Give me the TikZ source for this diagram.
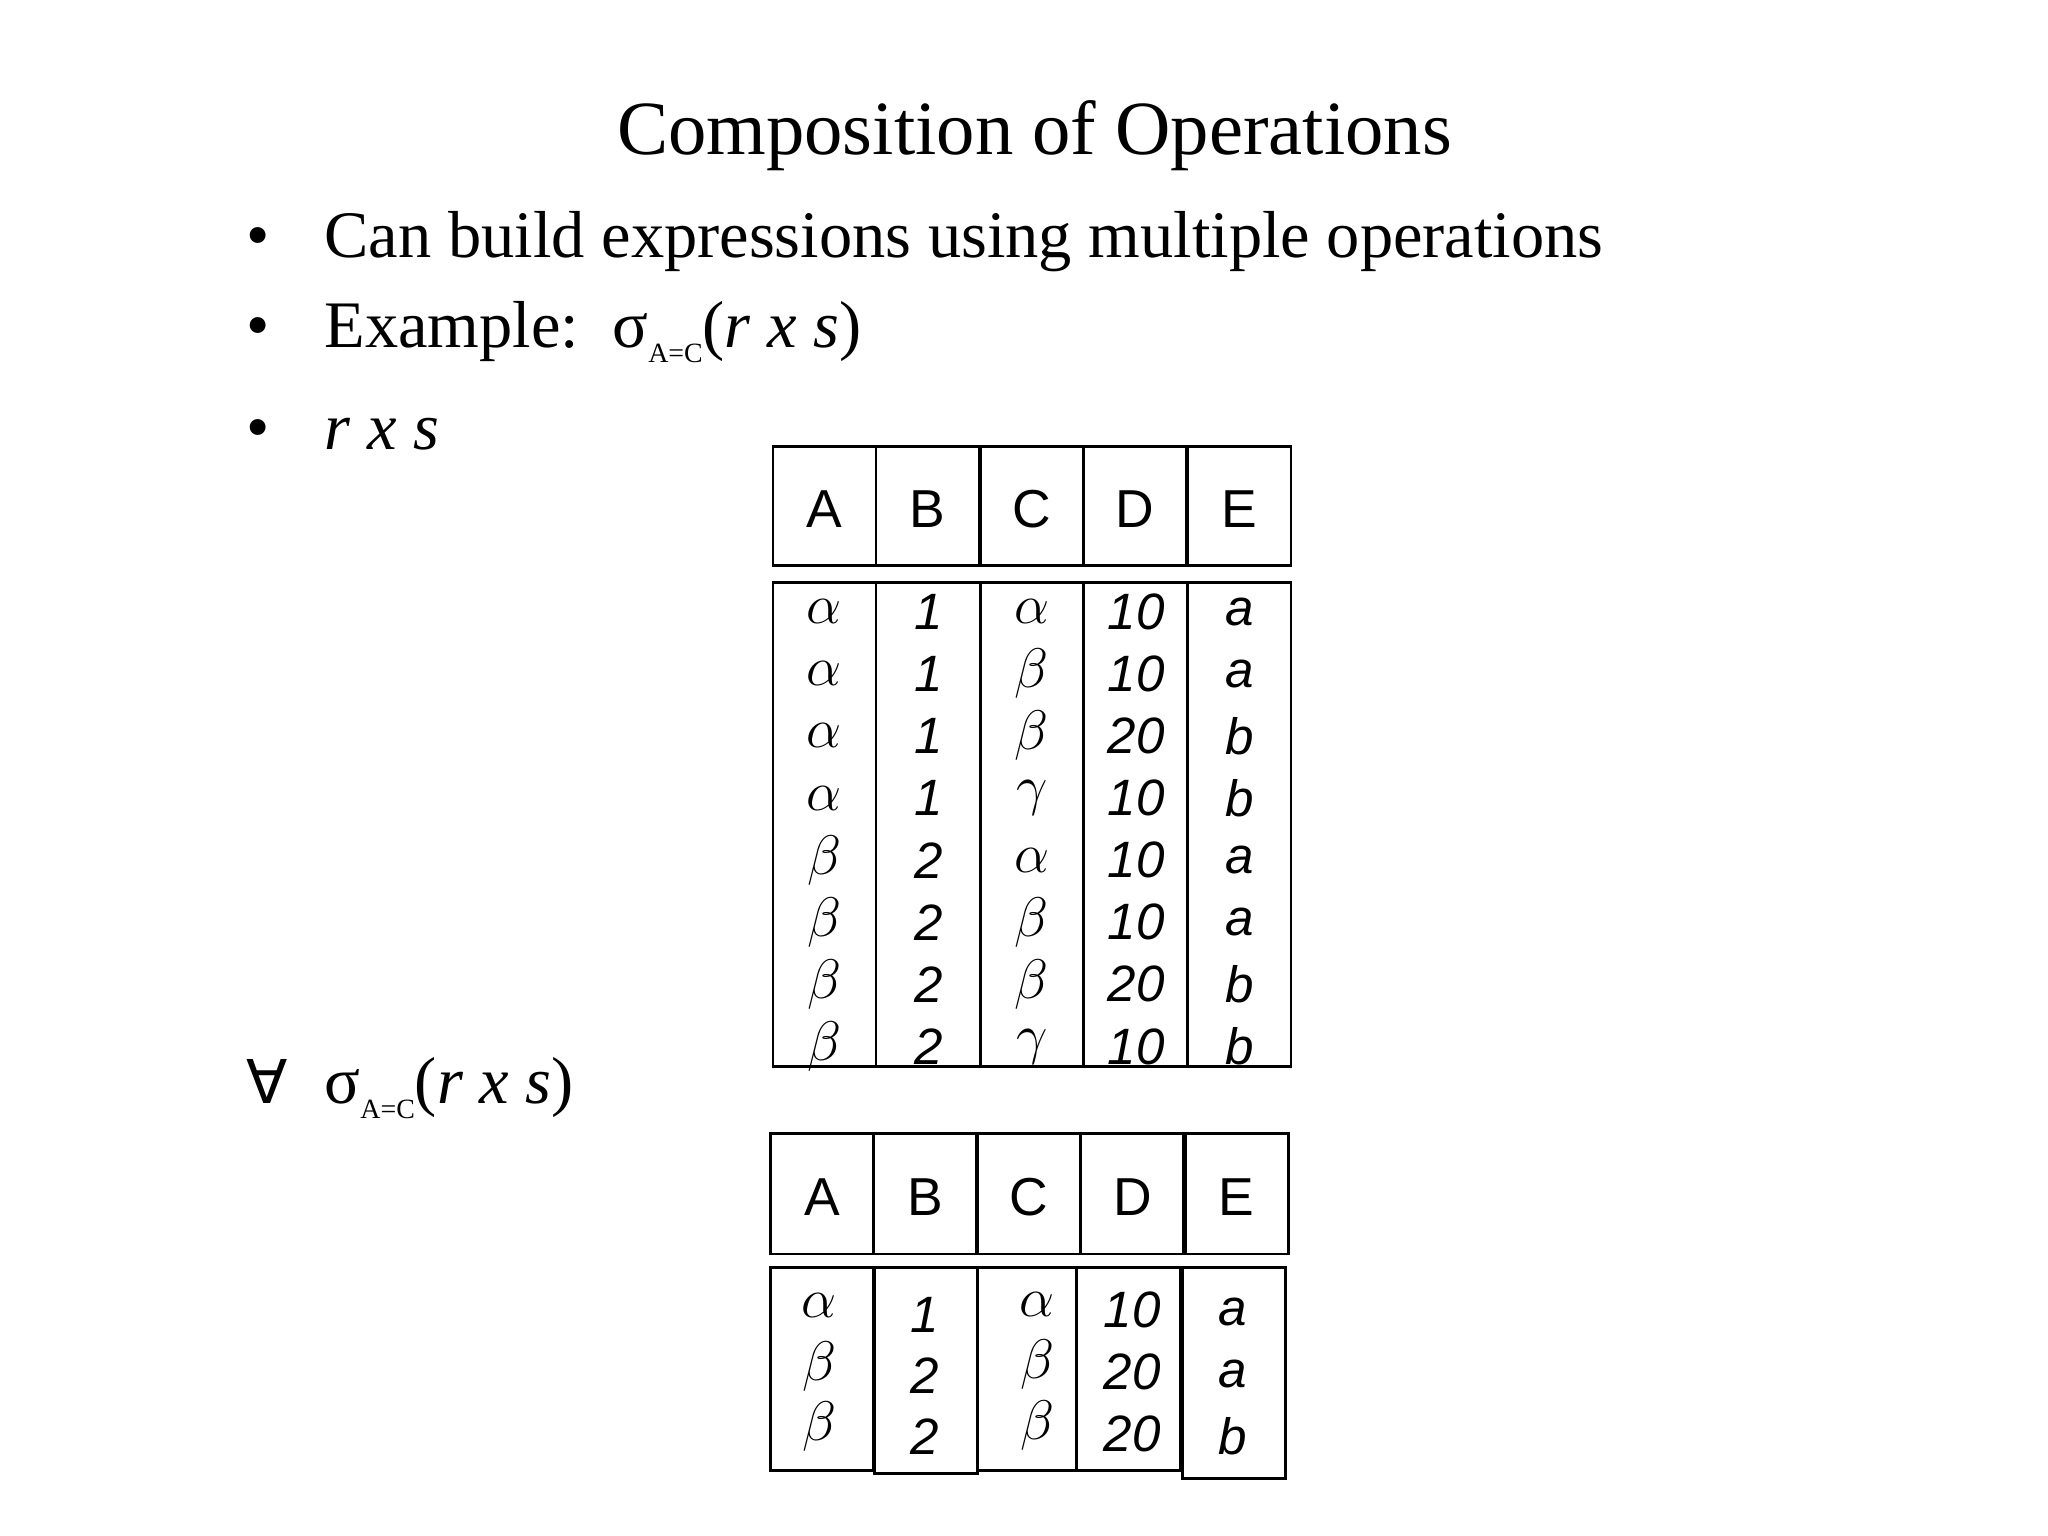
\documentclass[tikz,border=0pt]{standalone}
\usepackage{fontspec}
\setmainfont{Liberation Serif}
\setsansfont{Liberation Sans}
\newfontfamily\dejavu{DejaVu Sans}
\begin{document}
\begin{tikzpicture}[x=0.01cm,y=-0.01cm,
  cell/.style={draw,line width=0.6pt,inner sep=0pt},
  hd/.style={font=\sffamily\fontsize{11.5}{12}\selectfont,anchor=center},
  tv/.style={font=\sffamily\itshape\fontsize{11}{12}\selectfont,anchor=center},
  gv/.style={font=\fontsize{12}{12}\selectfont,anchor=center},
  bl/.style={font=\fontsize{14.3}{16}\selectfont,anchor=base west,inner sep=0pt}]
\useasboundingbox[fill=white] (0,0) rectangle (1550,1162);
\node[font=\fontsize{16.5}{18}\selectfont] (title) at (783,103) {Composition of Operations};
\node[bl] (b1) at (186,195) {•};
\node[bl] (t1) at (245,195) {Can build expressions using multiple operations};
\node[bl] (b2) at (186,263) {•};
\node[bl] (t2) at (245,263) {Example:\ \ σ\raisebox{-0.5ex}{\fontsize{6}{6}\selectfont A=C}(\textit{r x s})};
\node[bl] (b3) at (186,340) {•};
\node[bl] (t3) at (245,340) {\textit{r x s}};
\node[bl] (b4) at (186,835) {\dejavu\fontsize{13}{14}\selectfont ∀};
\node[bl] (t4) at (245,835) {σ\raisebox{-0.5ex}{\fontsize{6}{6}\selectfont A=C}(\textit{r x s})};
% top table header
\foreach \x/\n [count=\i] in {585/A,663/B,742/C,820/D,899/E}{
  \draw[line width=0.6pt] (\x,338) rectangle ++(78,90);
  \node[hd] (h\i) at (\x+39,385) {\n};}
\draw[line width=0.6pt] (585,441) rectangle (977,807);
\foreach \x in {663,742,820,899}{\draw[line width=0.6pt] (\x,441) -- (\x,807);}
\foreach \a/\b/\c/\d/\e [count=\r] in {
 \alpha/1/\alpha/10/a, \alpha/1/\beta/10/a, \alpha/1/\beta/20/b, \alpha/1/\gamma/10/b,
 \beta/2/\alpha/10/a, \beta/2/\beta/10/a, \beta/2/\beta/20/b, \beta/2/\gamma/10/b}{
  \pgfmathsetmacro\yy{416+47*\r}
  \node[gv] (ra\r) at (624,\yy) {$\a$};
  \node[tv] (rb\r) at (703,\yy) {\b};
  \node[gv] (rc\r) at (781,\yy) {$\c$};
  \node[tv] (rd\r) at (860,\yy) {\d};
  \node[tv] (re\r) at (938,\yy) {\e};}
% bottom table
\foreach \x/\n [count=\i] in {583/A,661/B,740/C,818/D,897/E}{
  \draw[line width=0.6pt] (\x,858) rectangle ++(78,91);
  \node[hd] (g\i) at (\x+39,906) {\n};}
\draw[line width=0.6pt] (583,959) rectangle (661,1113);
\draw[line width=0.6pt] (662,959) rectangle (740,1115);
\draw[line width=0.6pt] (740,959) rectangle (815,1113);
\draw[line width=0.6pt] (815,959) rectangle (893,1113);
\draw[line width=0.6pt] (895,959) rectangle (973,1119);
\foreach \a/\b/\c/\d/\e [count=\r] in {\alpha/1/\alpha/10/a, \beta/2/\beta/20/a, \beta/2/\beta/20/b}{
  \node[gv] (sa\r) at (620,942+46*\r) {$\a$};
  \node[tv] (sb\r) at (700,949+46*\r) {\b};
  \node[gv] (sc\r) at (785,941+46*\r) {$\c$};
  \node[tv] (sd\r) at (857,944+47*\r) {\d};
  \node[tv] (se\r) at (933,946+47*\r) {\e};}
\end{tikzpicture}
\end{document}
